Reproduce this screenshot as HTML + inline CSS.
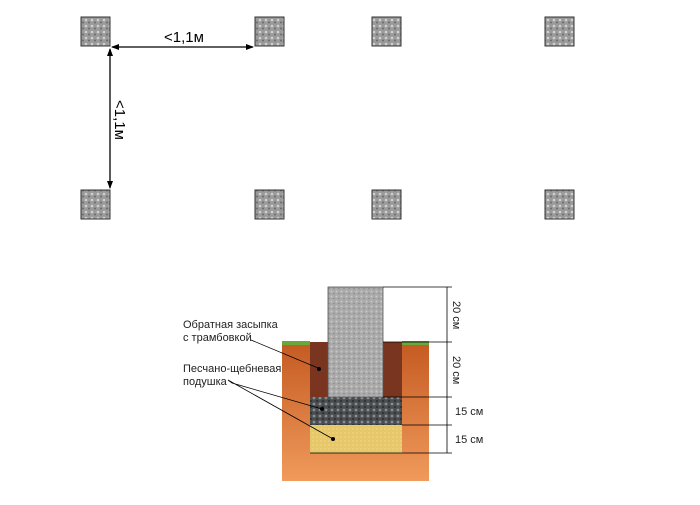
<!DOCTYPE html>
<html><head><meta charset="utf-8"><style>
body{margin:0;width:700px;height:500px;background:#fff;overflow:hidden;font-family:"Liberation Sans",sans-serif}
</style></head><body>
<svg width="700" height="500" xmlns="http://www.w3.org/2000/svg" font-family="Liberation Sans, sans-serif">
<defs>
<pattern id="g" width="6" height="6" patternUnits="userSpaceOnUse"><rect width="6" height="6" fill="#9a9a9a"/><circle cx="2" cy="2" r="1.3" fill="#d0d0d0"/><circle cx="5" cy="4.5" r="1" fill="#6a6a6a"/></pattern>
<pattern id="c" width="5" height="5" patternUnits="userSpaceOnUse"><rect width="5" height="5" fill="#aaaaaa"/><circle cx="1.5" cy="1.5" r="1" fill="#c8c8c8"/><circle cx="4" cy="3.5" r="0.8" fill="#8a8a8a"/></pattern>
<pattern id="gr" width="6" height="6" patternUnits="userSpaceOnUse"><rect width="6" height="6" fill="#4a4d50"/><circle cx="2" cy="2" r="1.4" fill="#8a8d90"/><circle cx="5" cy="5" r="1" fill="#2a2c2e"/></pattern>
<pattern id="s" width="4" height="4" patternUnits="userSpaceOnUse"><rect width="4" height="4" fill="#e6c86a"/><circle cx="1" cy="1" r="0.7" fill="#f2dc8c"/></pattern>
<linearGradient id="earth" x1="0" y1="0" x2="0" y2="1"><stop offset="0" stop-color="#c45a22"/><stop offset="1" stop-color="#f09a5c"/></linearGradient>
<marker id="a" markerWidth="8" markerHeight="8" refX="7" refY="4" orient="auto-start-reverse" markerUnits="userSpaceOnUse"><path d="M0,1 L8,4 L0,7z" fill="#000"/></marker>
</defs>
<g stroke="#333" stroke-width="1">
<rect x="81" y="17" width="29" height="29" fill="url(#g)"/>
<rect x="255" y="17" width="29" height="29" fill="url(#g)"/>
<rect x="372" y="17" width="29" height="29" fill="url(#g)"/>
<rect x="545" y="17" width="29" height="29" fill="url(#g)"/>
<rect x="81" y="190" width="29" height="29" fill="url(#g)"/>
<rect x="255" y="190" width="29" height="29" fill="url(#g)"/>
<rect x="372" y="190" width="29" height="29" fill="url(#g)"/>
<rect x="545" y="190" width="29" height="29" fill="url(#g)"/>
</g>
<line x1="112" y1="47" x2="253" y2="47" stroke="#000" stroke-width="1.3" marker-start="url(#a)" marker-end="url(#a)"/>
<line x1="110" y1="49" x2="110" y2="188" stroke="#000" stroke-width="1.3" marker-start="url(#a)" marker-end="url(#a)"/>
<text x="164" y="42" font-size="15">&lt;1,1м</text>
<text transform="translate(115,100) rotate(90)" font-size="15">&lt;1,1м</text>
<rect x="282" y="342" width="147" height="139" fill="url(#earth)"/>
<rect x="282" y="341" width="28" height="4" fill="#6aa83a"/>
<rect x="402" y="341" width="27" height="4" fill="#6aa83a"/>
<rect x="310" y="342" width="92" height="55" fill="#7a3520"/>
<rect x="310" y="397" width="92" height="28" fill="url(#gr)"/>
<rect x="310" y="425" width="92" height="28" fill="url(#s)"/>
<rect x="328" y="287" width="55" height="110" fill="url(#c)" stroke="#555" stroke-width="0.8"/>
<g stroke="#000" stroke-width="0.8">
<line x1="383" y1="287" x2="452" y2="287"/><line x1="383" y1="342" x2="452" y2="342"/>
<line x1="383" y1="397" x2="452" y2="397"/><line x1="402" y1="425" x2="452" y2="425"/>
<line x1="310" y1="453" x2="452" y2="453"/>
<line x1="447" y1="287" x2="447" y2="453"/>
</g>
<g fill="#000" stroke="none"><circle cx="319" cy="369" r="2"/><circle cx="322" cy="409" r="2"/><circle cx="333" cy="439" r="2"/></g>
<g stroke="#000" stroke-width="0.8" fill="none">
<line x1="251" y1="340" x2="318" y2="368"/>
<polyline points="322,409 232,383 228,380 333,439"/>
</g>
<g font-size="11" fill="#222">
<text x="183" y="328">Обратная засыпка</text>
<text x="183" y="341">с трамбовкой</text>
<text x="183" y="372">Песчано-щебневая</text>
<text x="183" y="385">подушка</text>
<text transform="translate(453,301) rotate(90)">20 см</text>
<text transform="translate(453,356) rotate(90)">20 см</text>
<text x="455" y="415">15 см</text>
<text x="455" y="443">15 см</text>
</g>
</svg>
</body></html>
